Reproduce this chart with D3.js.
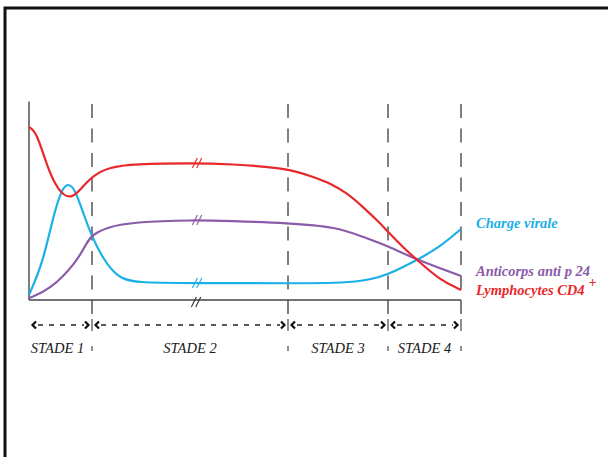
<!DOCTYPE html>
<meta charset="utf-8">
<head>
    <title>Stades de l'infection</title>
    <script src="https://d3js.org/d3.v7.min.js"></script>
    <style>
        body { margin: 0; background: #fff; }
        text { font-family: "Liberation Serif", "DejaVu Serif", serif; font-style: italic; }
    </style>
</head>
<body>
    <svg width="608" height="457"></svg>
    <script>
        // stages (x is in "stage units": 0..4, one unit per stage)
        var stages = ["STADE 1", "STADE 2", "STADE 3", "STADE 4"];
        var stageBounds = [0, 1, 2, 3, 4];

        // Lymphocytes CD4+
        var cd4T = [0, 0.12, 0.29, 0.43, 0.54, 0.68, 0.81, 1.0, 1.09, 1.21, 1.52, 1.70, 2.0, 2.25, 2.42, 2.59, 2.75, 2.92, 3.0, 3.23, 3.40, 3.71, 4.0];
        var cd4V = [86.5, 84, 66.5, 57, 52.5, 51, 55, 62, 66.5, 68, 68.5, 68, 66, 61.5, 58.5, 53.5, 46.5, 38.5, 34, 25.5, 20, 10, 5];

        // Charge virale
        var virT = [0, 0.22, 0.38, 0.52, 0.62, 0.73, 0.86, 1.0, 1.06, 1.13, 1.21, 1.55, 2.0, 2.72, 3.0, 3.40, 3.71, 4.0];
        var virV = [2.5, 18.5, 41.5, 55.5, 58.5, 55.5, 43.5, 31.5, 20, 11.5, 8.5, 8.5, 8.3, 8.5, 12.5, 20, 26.5, 35.5];

        // Anticorps anti p 24
        var antiT = [0, 0.33, 0.76, 0.92, 1.0, 1.08, 1.21, 1.52, 1.70, 2.0, 2.49, 2.75, 3.0, 3.40, 4.0];
        var antiV = [1, 5, 19, 29, 32.5, 36.5, 39, 40, 39.5, 38.5, 36.5, 31.5, 27, 20, 12];

        var series = [
            { name: "Charge virale", t: virT, v: virV, color: "#1bb0e6", dy: -1 },
            { name: "Anticorps anti p 24", t: antiT, v: antiV, color: "#8a5ba8", dy: 0 },
            { name: "Lymphocytes CD4", sup: "+", t: cd4T, v: cd4V, color: "#e8282b", dy: 5 }
        ];
        var breakT = 1.536; // position of the "//" axis breaks

        var svg = d3.select("svg");

        var x = d3.scaleLinear().domain(stageBounds).range([29, 92, 288, 388, 461]);
        var y = d3.scaleLinear().domain([0, 100]).range([300, 100]);

        // frame
        svg.append("path")
            .attr("d", "M5,457 L5,8 L608,8")
            .attr("fill", "none")
            .attr("stroke", "#111")
            .attr("stroke-width", 3);

        // stage separators (dashed)
        svg.append("g").selectAll("line")
            .data(stageBounds.slice(1))
            .enter().append("line")
            .attr("x1", d => x(d)).attr("x2", d => x(d))
            .attr("y1", 104).attr("y2", 314)
            .attr("stroke", "#555")
            .attr("stroke-width", 1.5)
            .attr("stroke-dasharray", "14,10.5");

        // axes
        svg.append("line")
            .attr("x1", x(0)).attr("x2", x(0))
            .attr("y1", y(0)).attr("y2", y(99.2))
            .attr("stroke", "#444").attr("stroke-width", 1.4);
        svg.append("line")
            .attr("x1", x(0)).attr("x2", x(4))
            .attr("y1", y(0)).attr("y2", y(0))
            .attr("stroke", "#444").attr("stroke-width", 1.4);

        // curves
        var line = d3.line()
            .x(d => x(d[0]))
            .y(d => y(d[1]))
            .curve(d3.curveBasis);

        series.forEach(s => {
            var pts = d3.zip(s.t, s.v);
            svg.append("path")
                .datum(pts)
                .attr("d", line)
                .attr("fill", "none")
                .attr("stroke", s.color)
                .attr("stroke-width", 2.2);
            s.breakV = valueAt(s.t, s.v, breakT);
        });

        function valueAt(ts, vs, t) {
            var i = d3.bisectRight(ts, t);
            var k = (t - ts[i - 1]) / (ts[i] - ts[i - 1]);
            return vs[i - 1] + k * (vs[i] - vs[i - 1]);
        }

        // break marks "//"
        function breakMark(cx, cy, color) {
            [-2.2, 2.2].forEach(off => {
                svg.append("line")
                    .attr("x1", cx + off - 2.5).attr("y1", cy + 5)
                    .attr("x2", cx + off + 2.5).attr("y2", cy - 5)
                    .attr("stroke", color)
                    .attr("stroke-width", 1.1);
            });
        }
        series.forEach(s => breakMark(x(breakT), y(s.breakV), s.color));
        breakMark(x(breakT) - 1, y(0) + 2, "#333");

        // stage arrows
        var arrowY = 325;
        var arrows = svg.append("g");
        stages.forEach((s, i) => {
            var a = x(stageBounds[i]) + 2, b = x(stageBounds[i + 1]) - 2;
            arrows.append("line")
                .attr("x1", a + 7).attr("x2", b - 6)
                .attr("y1", arrowY).attr("y2", arrowY)
                .attr("stroke", "#222").attr("stroke-width", 1.3)
                .attr("stroke-dasharray", "5,6");
            arrows.append("polyline")
                .attr("points", [[a + 5, arrowY - 3.5], [a + 1.5, arrowY], [a + 5, arrowY + 3.5]].join(" "))
                .attr("fill", "none").attr("stroke", "#111").attr("stroke-width", 2.2);
            arrows.append("polyline")
                .attr("points", [[b - 5, arrowY - 3.5], [b - 1.5, arrowY], [b - 5, arrowY + 3.5]].join(" "))
                .attr("fill", "none").attr("stroke", "#111").attr("stroke-width", 2.2);
        });
        stageBounds.slice(1).forEach(d => {
            arrows.append("line")
                .attr("x1", x(d)).attr("x2", x(d))
                .attr("y1", 319).attr("y2", 331)
                .attr("stroke", "#555").attr("stroke-width", 1.3);
            arrows.append("line")
                .attr("x1", x(d)).attr("x2", x(d))
                .attr("y1", 346).attr("y2", 351)
                .attr("stroke", "#555").attr("stroke-width", 1.3);
        });

        // stage labels
        svg.append("g").selectAll("text")
            .data(stages)
            .enter().append("text")
            .attr("x", (d, i) => (x(stageBounds[i]) + x(stageBounds[i + 1])) / 2 - (i == 0 ? 3 : 0))
            .attr("y", 353)
            .attr("text-anchor", "middle")
            .style("font-size", "14.5px")
            .style("fill", "#1a1a1a")
            .text(d => d);

        // curve labels
        series.forEach(s => {
            var t = svg.append("text")
                .attr("x", 476)
                .attr("y", y(s.v[s.v.length - 1]) + s.dy)
                .style("font-size", "14.5px")
                .style("font-weight", "bold")
                .style("fill", s.color)
                .text(s.name);
            if (s.sup) {
                t.append("tspan")
                    .attr("dx", 4)
                    .attr("dy", -8)
                    .style("font-size", "14px")
                    .text(s.sup);
            }
        });
    </script>
</body>
